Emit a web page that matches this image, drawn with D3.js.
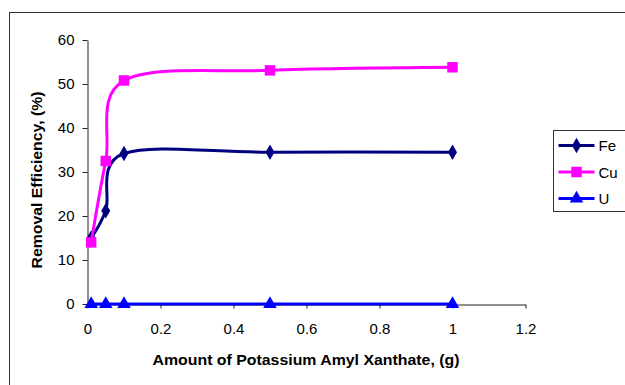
<!DOCTYPE html>
<html>
<head>
  <meta charset="utf-8" />
  <title>Removal Efficiency vs Potassium Amyl Xanthate</title>
  <style>
    body { margin: 0; background: #fff; }
    svg { display: block; font-family: "Liberation Sans", Arial, sans-serif; }
  </style>
</head>
<body>
<svg id="chart" width="625" height="385"></svg>
<script src="https://d3js.org/d3.v7.min.js"></script>
<script>
  // data
  const doses = [0.01, 0.05, 0.1, 0.5, 1];
  const fe = [15, 21.2, 34.2, 34.5, 34.5];
  const cu = [14, 32.5, 50.8, 53.1, 53.8];
  const u  = [0, 0, 0, 0, 0];
  const seriesNames = ["Fe", "Cu", "U"];
  const xTicks = [0, 0.2, 0.4, 0.6, 0.8, 1, 1.2];
  const yTicks = [0, 10, 20, 30, 40, 50, 60];

  const svg = d3.select("#chart");

  // outer frame (runs off the right and bottom edges)
  svg.append("rect")
    .attr("x", 9.5).attr("y", 12.5)
    .attr("width", 640).attr("height", 400)
    .attr("fill", "none").attr("stroke", "#333").attr("stroke-width", 1);

  const x = d3.scaleLinear().domain([0, 1.2]).range([87.5, 525.5]);
  const y = d3.scaleLinear().domain([0, 60]).range([304, 40]);

  // y axis
  const yAxis = svg.append("g")
    .attr("transform", "translate(87.5,0)")
    .call(d3.axisLeft(y).tickValues(yTicks).tickSize(5).tickPadding(8).tickSizeOuter(0));
  yAxis.selectAll("text").attr("font-size", 15).attr("fill", "#000");

  // x axis
  const xAxis = svg.append("g")
    .attr("transform", "translate(0,304.5)")
    .call(d3.axisBottom(x).tickValues(xTicks).tickFormat(d3.format("")).tickSize(4).tickPadding(15).tickSizeOuter(0));
  xAxis.selectAll("text").attr("font-size", 15).attr("fill", "#000");

  svg.selectAll(".domain, .tick line").attr("stroke", "#222");
  svg.selectAll(".tick text").attr("font-family", "Liberation Sans, Arial, sans-serif");

  // axis titles
  svg.append("text")
    .attr("x", 306).attr("y", 365)
    .attr("text-anchor", "middle")
    .attr("font-size", 15).attr("font-weight", "bold")
    .attr("textLength", 307).attr("lengthAdjust", "spacingAndGlyphs")
    .text("Amount of Potassium Amyl Xanthate, (g)");

  svg.append("text")
    .attr("transform", "translate(42,180) rotate(-90)")
    .attr("text-anchor", "middle")
    .attr("font-size", 15).attr("font-weight", "bold")
    .attr("textLength", 177).attr("lengthAdjust", "spacingAndGlyphs")
    .text("Removal Efficiency, (%)");

  const series = [
    { name: seriesNames[0], values: fe, color: "#000080", shape: d3.symbolDiamond, size: 70 },
    { name: seriesNames[1], values: cu, color: "#ff00ff", shape: d3.symbolSquare, size: 110 },
    { name: seriesNames[2], values: u,  color: "#0000ff", shape: d3.symbolTriangle, size: 80 }
  ];

  const line = d3.line()
    .x(d => x(d[0]))
    .y(d => y(d[1]))
    .curve(d3.curveCardinal.tension(0));

  series.forEach(s => {
    const pts = doses.map((d, i) => [d, s.values[i]]);
    svg.append("path")
      .attr("d", line(pts))
      .attr("fill", "none")
      .attr("stroke", s.color)
      .attr("stroke-width", 3);

    svg.selectAll(null)
      .data(pts)
      .enter()
      .append("path")
      .attr("d", d3.symbol().type(s.shape).size(s.size))
      .attr("transform", d => `translate(${x(d[0])},${y(d[1])})`)
      .attr("fill", s.color);
  });

  // legend
  const legend = svg.append("g").attr("transform", "translate(553.5,130.5)");
  legend.append("rect")
    .attr("width", 80).attr("height", 81)
    .attr("fill", "#fff").attr("stroke", "#333").attr("stroke-width", 1);

  series.forEach((s, i) => {
    const ly = 15 + i * 26.5;
    legend.append("line")
      .attr("x1", 5).attr("x2", 41)
      .attr("y1", ly).attr("y2", ly)
      .attr("stroke", s.color).attr("stroke-width", 3);
    legend.append("path")
      .attr("d", d3.symbol().type(s.shape).size(s.size)())
      .attr("transform", `translate(23,${ly})`)
      .attr("fill", s.color);
    legend.append("text")
      .attr("x", 45).attr("y", ly + 5.5)
      .attr("font-size", 15)
      .text(s.name);
  });
</script>
</body>
</html>
